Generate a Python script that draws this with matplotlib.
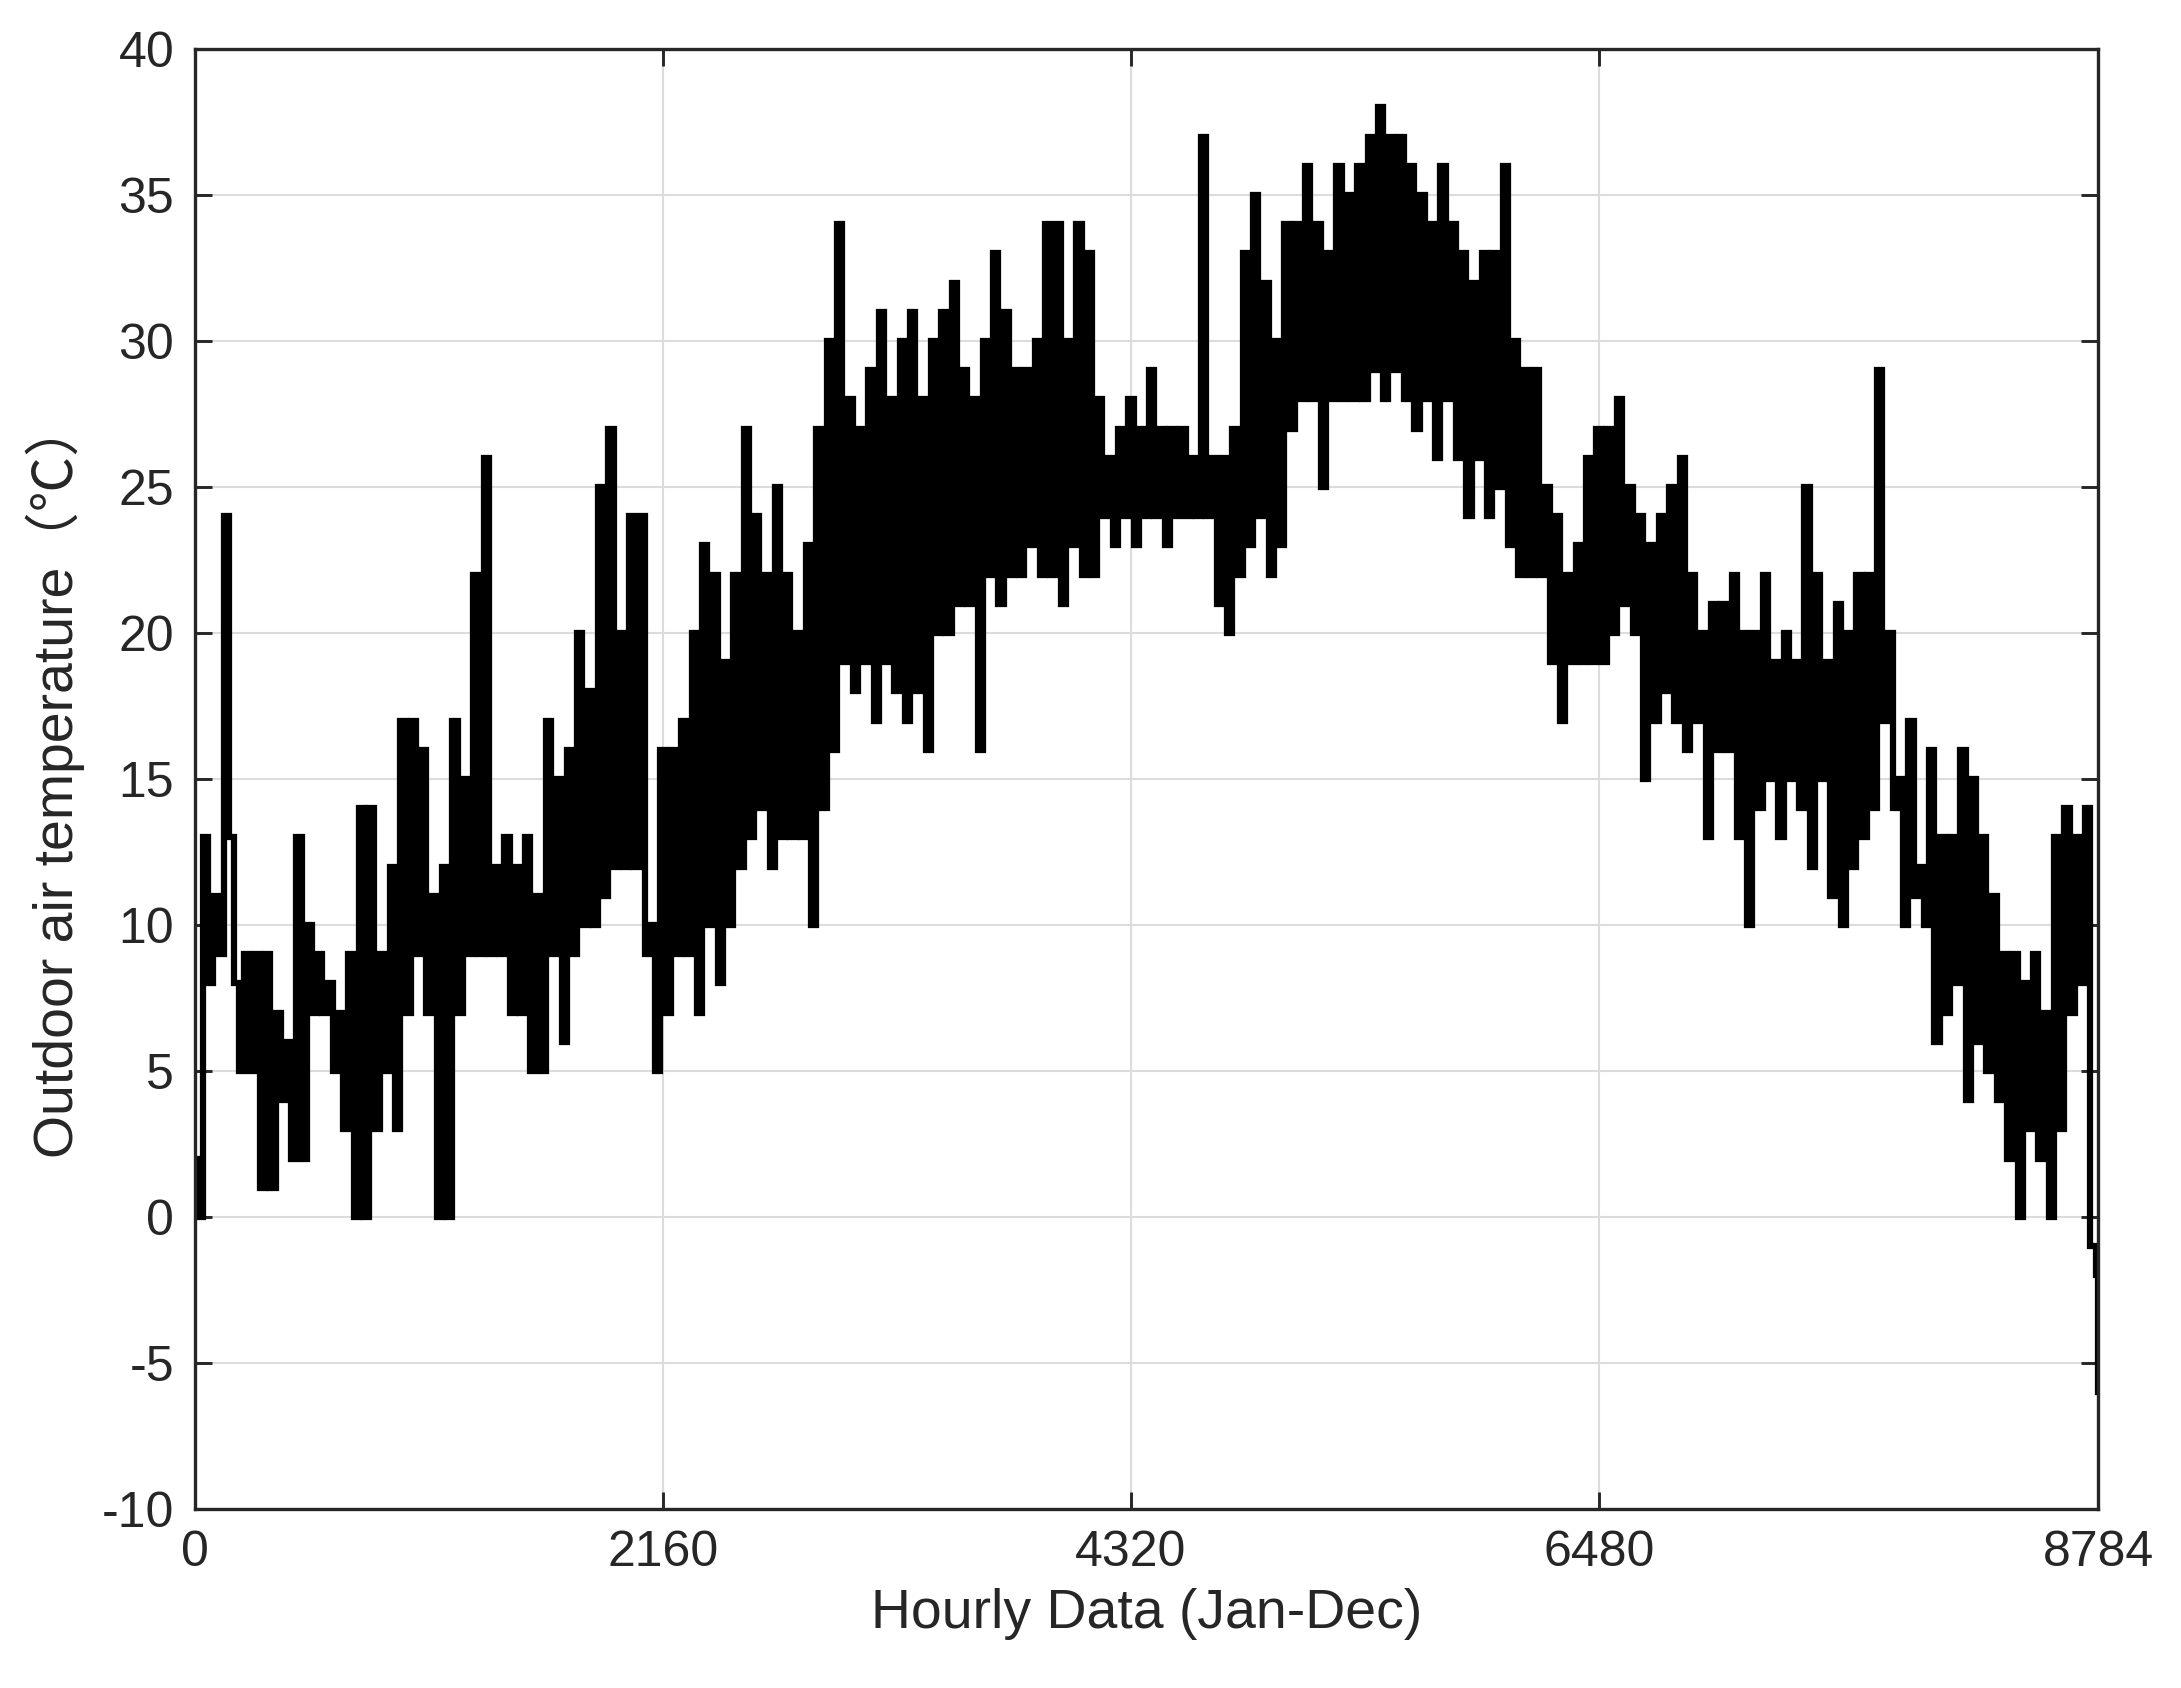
import numpy as np
import matplotlib.pyplot as plt

step_hours = 48
temp_high = [2, 13, 11, 24, 8, 9, 9, 9, 7, 6,
             13, 10, 9, 8, 7, 9, 14, 14, 9, 12,
             17, 17, 16, 11, 12, 17, 15, 22, 26, 12,
             13, 12, 13, 11, 17, 15, 16, 20, 18, 25,
             27, 20, 24, 24, 10, 16, 16, 17, 20, 23,
             22, 19, 22, 27, 24, 22, 25, 22, 20, 23,
             27, 30, 34, 28, 27, 29, 31, 28, 30, 31,
             28, 30, 31, 32, 29, 28, 30, 33, 31, 29,
             29, 30, 34, 34, 30, 34, 33, 28, 26, 27,
             28, 27, 29, 27, 27, 27, 26, 37, 26, 26,
             27, 33, 35, 32, 30, 34, 34, 36, 34, 33,
             36, 35, 36, 37, 38, 37, 37, 36, 35, 34,
             36, 34, 33, 32, 33, 33, 36, 30, 29, 29,
             25, 24, 22, 23, 26, 27, 27, 28, 25, 24,
             23, 24, 25, 26, 22, 20, 21, 21, 22, 20,
             20, 22, 19, 20, 19, 25, 22, 19, 21, 20,
             22, 22, 29, 20, 15, 17, 12, 16, 13, 13,
             16, 15, 13, 11, 9, 9, 8, 9, 7, 13,
             14, 13, 14, -2]
temp_low = [0, 8, 9, 13, 5, 5, 1, 1, 4, 2,
            2, 7, 7, 5, 3, 0, 0, 3, 5, 3,
            7, 9, 7, 0, 0, 7, 9, 9, 9, 9,
            7, 7, 5, 5, 9, 6, 9, 10, 10, 11,
            12, 12, 12, 9, 5, 7, 9, 9, 7, 10,
            8, 10, 12, 13, 14, 12, 13, 13, 13, 10,
            14, 16, 19, 18, 19, 17, 19, 18, 17, 18,
            16, 20, 20, 21, 21, 16, 22, 21, 22, 22,
            23, 22, 22, 21, 23, 22, 22, 24, 23, 24,
            23, 24, 24, 23, 24, 24, 24, 24, 21, 20,
            22, 23, 24, 22, 23, 27, 28, 28, 25, 28,
            28, 28, 28, 29, 28, 29, 28, 27, 28, 26,
            28, 26, 24, 26, 24, 25, 23, 22, 22, 22,
            19, 17, 19, 19, 19, 19, 20, 21, 20, 15,
            17, 18, 17, 16, 17, 13, 16, 16, 13, 10,
            14, 15, 13, 15, 14, 12, 15, 11, 10, 12,
            13, 14, 17, 14, 10, 11, 10, 6, 7, 8,
            4, 6, 5, 4, 2, 0, 3, 2, 0, 3,
            7, 8, -1, -6]

x_ticks = [0, 2160, 4320, 6480, 8784]
y_ticks = list(range(-10, 41, 5))
total_hours = 8784

# interleave highs and lows into one trace
hi_hours = np.arange(len(temp_high)) * step_hours
lo_hours = np.minimum(hi_hours + step_hours // 2, total_hours)
hi_hours = np.minimum(hi_hours, total_hours)
hours = np.column_stack([hi_hours, lo_hours]).ravel()
temps = np.column_stack([temp_high, temp_low]).ravel()

plt.rcParams['font.family'] = ['Liberation Sans', 'Noto Sans CJK SC', 'DejaVu Sans']
plt.rcParams['axes.unicode_minus'] = False

fig = plt.figure(figsize=(7.27, 5.6267), dpi=300)
ax = fig.add_axes([0.0894, 0.106, 0.8726, 0.865])

ax.plot(hours, temps, color='black', linewidth=1.5, drawstyle='steps-mid',
        solid_joinstyle='miter')

ax.set_xlim(0, total_hours)
ax.set_ylim(-10, 40)
ax.set_xticks(x_ticks)
ax.set_yticks(y_ticks)
ax.grid(True, color='#dcdcdc', linewidth=0.5)
ax.set_axisbelow(True)

ax.tick_params(direction='in', length=4, width=0.7, colors='#262626',
               labelsize=12, top=True, right=True, pad=5)
for s in ax.spines.values():
    s.set_linewidth(0.8)
    s.set_color('#262626')

ax.set_xlabel('Hourly Data (Jan-Dec)', fontsize=13.3, color='#262626', labelpad=3)
ax.set_ylabel('Outdoor air temperature（℃）', fontsize=13.3, color='#262626', labelpad=4)

fig.savefig('out.png', dpi=300)
